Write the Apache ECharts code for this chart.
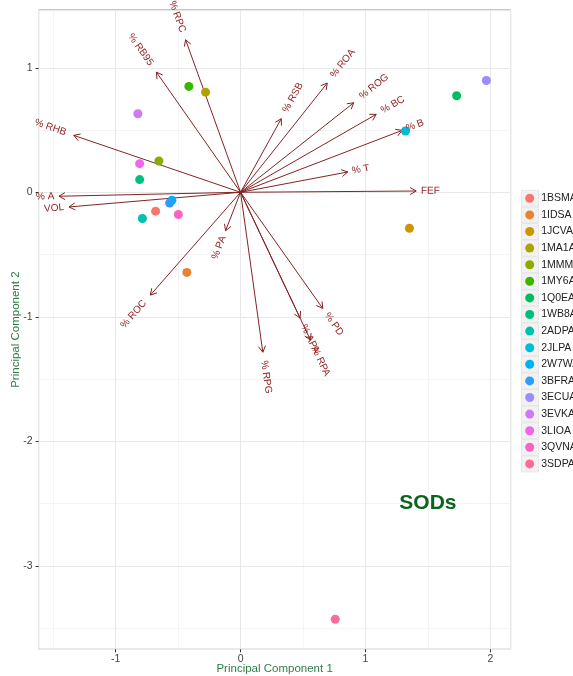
<!DOCTYPE html>
<html>
<head>
<meta charset="utf-8">
<script src="https://cdn.jsdelivr.net/npm/echarts@6/dist/echarts.min.js"></script>
<style>
  html, body { margin: 0; padding: 0; background: #ffffff; }
  #chart { width: 573px; height: 676px; }
</style>
</head>
<body>
<div id="chart"></div>
<script>
// PCA biplot of SOD structures: sample scores plus variable loadings.

// Sample (structure) identifiers, in legend order
const samples = ['1BSMA', '1IDSA', '1JCVA', '1MA1A', '1MMMA', '1MY6A', '1Q0EA', '1WB8A', '2ADPA',
                 '2JLPA', '2W7WA', '3BFRA', '3ECUA', '3EVKA', '3LIOA', '3QVNA', '3SDPA'];
const sampleColors = ['#F8766D', '#EA8331', '#D09400', '#ADA200', '#8BAB00', '#39B600', '#00BD5C', '#00BF7D', '#00C1AF',
                      '#00BCD8', '#00B2F3', '#2C9DFF', '#9A8EFF', '#D078FC', '#F066E9', '#FF62C5', '#FE6B98'];
// Scores on the first two principal components
const pc1 = [-0.68, -0.43, 1.352, -0.28, -0.654, -0.414, 1.730, -0.808, -0.786,
             1.32, -0.550, -0.568, 1.968, -0.822, -0.808, -0.498, 0.758];
const pc2 = [-0.152, -0.644, -0.289, 0.804, 0.251, 0.850, 0.775, 0.102, -0.211,
             0.492, -0.064, -0.086, 0.898, 0.631, 0.230, -0.179, -3.43];

// Variable loadings (arrow tips)
const varNames = ['% RPC', '% RB95', '% RHB', '% A', 'VOL', '% PA', '% ROC', '% RPG', '% APA',
                  '% RPA', '% PD', '% RSB', '% ROA', '% ROG', '% BC', '% B', '% T', 'FEF'];
const loadX = [-0.44, -0.674, -1.336, -1.454, -1.374, -0.12, -0.722, 0.178, 0.476,
               0.56, 0.658, 0.326, 0.694, 0.906, 1.086, 1.294, 0.858, 1.406];
const loadY = [1.225, 0.965, 0.457, -0.032, -0.118, -0.309, -0.826, -1.285, -1.01,
               -1.187, -0.933, 0.591, 0.877, 0.719, 0.626, 0.497, 0.163, 0.010];

// Panel extent
const xRange = [-1.617, 2.162];
const yRange = [-3.671, 1.464];

// Annotation
const groupLabel = 'SODs';
const groupLabelAt = [1.5, -2.5];

const FONT = '"Liberation Sans", Arial, Helvetica, sans-serif';
const ARROW_COLOR = '#832424';
const LABEL_COLOR = '#8E1C1C';
const TITLE_GREEN = '#2E7D45';
const LABEL_SIZE = 10;

const measureCtx = document.createElement('canvas').getContext('2d');
measureCtx.font = LABEL_SIZE + 'px ' + FONT;
function textWidth(s) { return measureCtx.measureText(s).width; }

const loadings = varNames.map((n, i) => [loadX[i], loadY[i], i]);

function renderArrow(params, api) {
  const o = api.coord([0, 0]);
  const t = api.coord([api.value(0), api.value(1)]);
  const ang = Math.atan2(t[1] - o[1], t[0] - o[0]);
  const L = 7, spread = Math.PI / 6;
  const h1 = [t[0] - L * Math.cos(ang - spread), t[1] - L * Math.sin(ang - spread)];
  const h2 = [t[0] - L * Math.cos(ang + spread), t[1] - L * Math.sin(ang + spread)];
  const style = { stroke: ARROW_COLOR, lineWidth: 1, fill: null };
  return {
    type: 'group',
    children: [
      { type: 'line', shape: { x1: o[0], y1: o[1], x2: t[0], y2: t[1] }, style: style },
      { type: 'polyline', shape: { points: [h1, t, h2] }, style: style }
    ]
  };
}

function renderVarLabel(params, api) {
  const i = api.value(2);
  const name = varNames[i];
  const o = api.coord([0, 0]);
  const t = api.coord([api.value(0), api.value(1)]);
  const dx = t[0] - o[0], dy = t[1] - o[1];
  const len = Math.hypot(dx, dy);
  const off = 0.25 * textWidth(name);
  const px = t[0] + dx / len * off;
  const py = t[1] + dy / len * off;
  let rot = Math.atan2(-dy, dx);
  let align = 'left';
  if (dx < 0) {
    rot = rot > 0 ? rot - Math.PI : rot + Math.PI;
    align = 'right';
  }
  return {
    type: 'text',
    x: px, y: py, rotation: rot,
    style: {
      text: name, align: align, verticalAlign: 'middle',
      fill: LABEL_COLOR, fontSize: LABEL_SIZE, fontFamily: FONT
    }
  };
}

function renderAnnotation(params, api) {
  const p = api.coord([api.value(0), api.value(1)]);
  return {
    type: 'text',
    x: p[0], y: p[1],
    style: {
      text: groupLabel, align: 'center', verticalAlign: 'middle',
      fill: '#0A651C', fontSize: 21, fontWeight: 'bold', fontFamily: FONT
    }
  };
}

const sampleSeries = samples.map((s, i) => ({
  name: s,
  type: 'scatter',
  z: 3,
  symbolSize: 9,
  data: [[pc1[i], pc2[i]]],
  itemStyle: { color: sampleColors[i], opacity: 1 },
  emphasis: { disabled: true }
}));

// Grey legend key backgrounds
const LEG_TOP = 198.3, LEG_STEP = 16.6;
const keyRects = samples.map((s, i) => ({
  type: 'rect',
  z: 0,
  shape: { x: 521.5, y: LEG_TOP + i * LEG_STEP - 8, width: 17, height: 16 },
  style: { fill: '#F2F2F2', stroke: '#E2E2E2', lineWidth: 0.8 }
}));

const axisCommon = {
  type: 'value',
  axisLine: { show: false, onZero: false },
  axisTick: { show: true, length: 3, lineStyle: { color: '#333333', width: 1 } },
  splitLine: { show: true, lineStyle: { color: '#E8E8E8', width: 1 } },
  minInterval: 1, maxInterval: 1,
  nameLocation: 'middle',
  nameMoveOverlap: false,
  nameTextStyle: { color: TITLE_GREEN, fontSize: 11.5, fontFamily: FONT }
};
const minorAxis = {
  type: 'value',
  z: 0,
  axisLine: { show: false, onZero: false }, axisTick: { show: false }, axisLabel: { show: false },
  splitLine: { show: true, lineStyle: { color: '#F4F4F4', width: 1 } },
  minInterval: 0.5, maxInterval: 0.5
};

const chart = echarts.init(document.getElementById('chart'), null, { renderer: 'canvas' });
chart.setOption({
  animation: false,
  backgroundColor: '#ffffff',
  textStyle: { fontFamily: FONT },
  grid: {
    left: 38.6, right: 62.4, top: 10, bottom: 26.7,
    show: true, borderColor: '#8F8F8F', borderWidth: 1, backgroundColor: '#ffffff',
    containLabel: false, outerBoundsMode: 'none'
  },
  xAxis: [
    Object.assign({}, axisCommon, {
      min: xRange[0], max: xRange[1], z: 1, position: 'bottom',
      name: 'Principal Component 1', nameGap: 14,
      axisLabel: { showMinLabel: false, showMaxLabel: false, color: '#444444', fontSize: 10.5, margin: 4, fontFamily: FONT }
    }),
    Object.assign({}, minorAxis, { min: xRange[0], max: xRange[1], position: 'bottom' })
  ],
  yAxis: [
    Object.assign({}, axisCommon, {
      min: yRange[0], max: yRange[1], z: 1, position: 'left',
      name: 'Principal Component 2', nameGap: 17, nameRotate: 90,
      axisLabel: { showMinLabel: false, showMaxLabel: false, color: '#444444', fontSize: 10.5, margin: 6, fontFamily: FONT }
    }),
    Object.assign({}, minorAxis, { min: yRange[0], max: yRange[1], position: 'left' })
  ],
  legend: {
    data: samples,
    orient: 'vertical',
    left: 525.2, top: LEG_TOP - 6,
    padding: 0,
    icon: 'circle',
    itemWidth: 9, itemHeight: 9, itemGap: LEG_STEP - 12,
    textStyle: { fontSize: 10.5, lineHeight: 12, color: '#222222', fontFamily: FONT, padding: [0, 0, 0, 2] },
    selectedMode: false
  },
  graphic: keyRects,
  series: [
    {
      name: 'arrows', type: 'custom', z: 2, silent: true,
      renderItem: renderArrow, data: loadings,
      encode: { x: 0, y: 1 }, clip: false
    },
    ...sampleSeries,
    {
      name: 'varLabels', type: 'custom', z: 4, silent: true,
      renderItem: renderVarLabel, data: loadings,
      encode: { x: 0, y: 1 }, clip: false
    },
    {
      name: 'annotation', type: 'custom', z: 4, silent: true,
      renderItem: renderAnnotation, data: [groupLabelAt],
      encode: { x: 0, y: 1 }
    }
  ]
});
</script>
</body>
</html>
